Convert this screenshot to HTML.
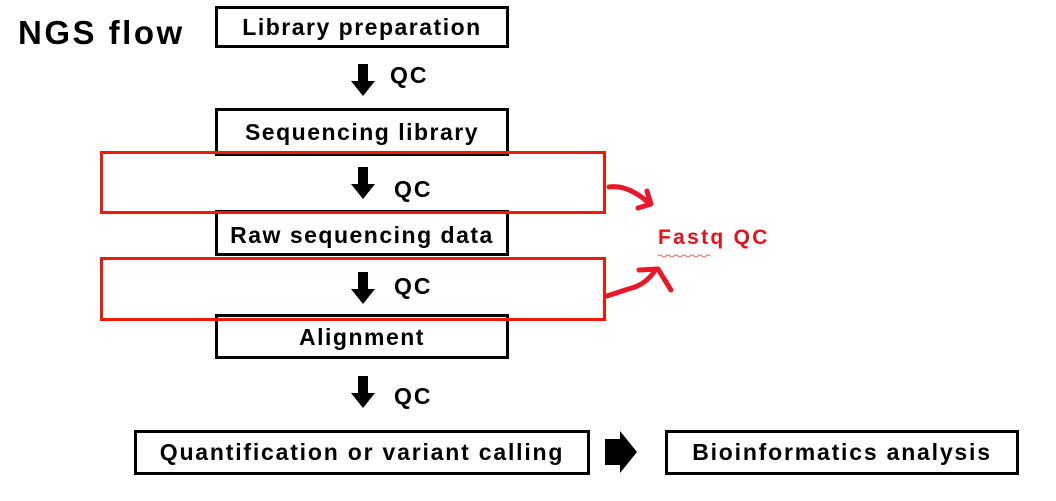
<!DOCTYPE html>
<html><head><meta charset="utf-8"><style>
body{margin:0;width:1056px;height:501px;background:#fff;position:relative;overflow:hidden;font-family:"Liberation Sans","Noto Sans CJK KR",sans-serif;font-weight:bold;}
.b{position:absolute;border:3px solid #000;box-sizing:border-box;display:flex;align-items:center;justify-content:center;font-size:23px;letter-spacing:1.5px;color:#000;background:#fff;white-space:nowrap;}
.r{position:absolute;border:3px solid #f01a0a;box-sizing:border-box;}
.t{position:absolute;font-size:23px;color:#000;letter-spacing:2px;}
</style></head><body>
<div class="t" style="left:18px;top:14px;font-size:33px;letter-spacing:2.5px;">NGS flow</div>
<div class="b" style="left:215px;top:6px;width:294px;height:42px;">Library preparation</div>
<div class="b" style="left:215px;top:108px;width:294px;height:48px;align-items:flex-start;padding-top:8px;">Sequencing library</div>
<div class="b" style="left:215px;top:210px;width:294px;height:46px;padding-top:4px;">Raw sequencing data</div>
<div class="b" style="left:215px;top:314px;width:294px;height:45px;align-items:flex-end;padding-bottom:5px;">Alignment</div>
<div class="r" style="left:100px;top:151px;width:506px;height:63px;"></div>
<div class="r" style="left:100px;top:257px;width:506px;height:64px;"></div>
<div class="b" style="left:134px;top:430px;width:456px;height:45px;letter-spacing:1.8px;">Quantification or variant calling</div>
<div class="b" style="left:665px;top:430px;width:354px;height:45px;letter-spacing:1.8px;">Bioinformatics analysis</div>
<div class="t" style="left:390px;top:62px;">QC</div>
<div class="t" style="left:394px;top:176px;">QC</div>
<div class="t" style="left:394px;top:273px;">QC</div>
<div class="t" style="left:394px;top:383px;">QC</div>
<div class="t" style="left:658px;top:226px;color:#e8101a;font-size:21px;letter-spacing:2.3px;">Fastq QC</div>
<svg width="1056" height="501" style="position:absolute;left:0;top:0">
<g fill="#000">
<polygon points="358,64 368,64 368,81 375,81 363,96 351,81 358,81"/>
<polygon points="358,167 368,167 368,184 375,184 363,199 351,184 358,184"/>
<polygon points="358,272 368,272 368,289 375,289 363,304 351,289 358,289"/>
<polygon points="358,376 368,376 368,393 375,393 363,408 351,393 358,393"/>
<polygon points="605,439 620,439 620,431 637,452 620,473 620,465 605,465"/>
</g>
<g fill="none" stroke="#e8182a" stroke-width="5" stroke-linecap="round" stroke-linejoin="round">
<path d="M609,187 Q628,184 650,204"/>
<path d="M647,191 L651,204 L638,208"/>
<path d="M607,296 Q625,290 635,287 Q648,282 656,269"/>
<path d="M639,270 L658,269 L671,290"/>
</g>
<path d="M658,256 q2,-2 4,0 t4,0 t4,0 t4,0 t4,0 t4,0 t4,0 t4,0 t4,0 t4,0 t4,0 t4,0 t4,0" fill="none" stroke="#e86060" stroke-width="1"/>
</svg>
</body></html>
